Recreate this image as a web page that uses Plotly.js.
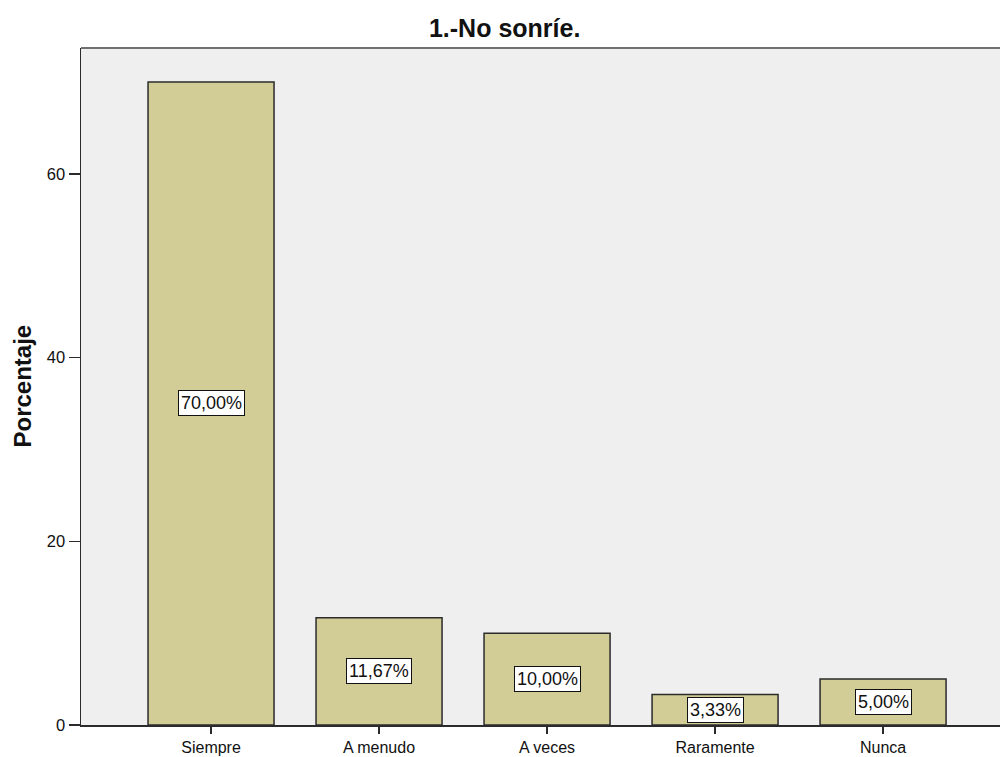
<!DOCTYPE html>
<html>
<head>
<meta charset="utf-8">
<script src="https://cdn.plot.ly/plotly-3.0.1.min.js"></script>
<style>html,body{margin:0;padding:0;background:#fff;}#chart{width:1000px;height:757px;}</style>
</head>
<body>
<div id="chart"></div>
<script>
const categories = ["Siempre", "A menudo", "A veces", "Raramente", "Nunca"];
const values = [70.00, 11.67, 10.00, 3.33, 5.00];
const yTicks = [0, 20, 40, 60];

const FONT = 'Liberation Sans, Arial, sans-serif';
const fmt = v => v.toFixed(2).replace('.', ',') + '%';

const trace = {
  type: 'bar',
  x: categories,
  y: values,
  width: 0.75,
  marker: {color: '#D2CD96', line: {color: '#2b2b2b', width: 1.5}},
  hoverinfo: 'skip'
};

const annotations = categories.map((c, i) => ({
  x: c, y: values[i] / 2, xref: 'x', yref: 'y',
  text: fmt(values[i]), showarrow: false,
  bgcolor: '#ffffff', bordercolor: '#111111', borderwidth: 1, borderpad: 2,
  font: {family: FONT, size: 18, color: '#111'}
}));

annotations.push({
  xref: 'paper', yref: 'paper', x: -0.0642, y: 0.5,
  xanchor: 'center', yanchor: 'middle', textangle: -90, showarrow: false,
  text: '<b>Porcentaje</b>',
  font: {family: FONT, size: 24, color: '#111'}
});

const layout = {
  width: 1000, height: 757,
  margin: {l: 81, r: 0, t: 48, b: 32},
  paper_bgcolor: '#ffffff',
  plot_bgcolor: '#EFEFEF',
  showlegend: false,
  font: {family: FONT, size: 16, color: '#111'},
  title: {
    text: '<b>1.-No sonríe.</b>',
    xref: 'paper', x: 0.461, xanchor: 'center',
    yref: 'container', y: 0.963, yanchor: 'middle',
    font: {family: FONT, size: 25, color: '#111'}
  },
  xaxis: {
    type: 'category',
    range: [-0.774, 4.696],
    showline: true, linecolor: '#2b2b2b', linewidth: 1.5,
    ticks: 'outside', ticklen: 7, tickwidth: 1.5, tickcolor: '#2b2b2b',
    showgrid: false, zeroline: false,
    tickfont: {size: 16, color: '#111'}
  },
  yaxis: {
    range: [0, 73.7],
    tickvals: yTicks,
    showline: true, linecolor: '#2b2b2b', linewidth: 1.5,
    ticks: 'outside', ticklen: 11, tickwidth: 1.5, tickcolor: '#2b2b2b',
    showgrid: false, zeroline: false,
    tickfont: {size: 16.5, color: '#111'}
  },
  shapes: [{
    type: 'line', xref: 'paper', yref: 'paper', x0: 0, x1: 1, y0: 1, y1: 1,
    line: {color: '#707070', width: 2}
  }],
  annotations: annotations
};

Plotly.newPlot('chart', [trace], layout, {displayModeBar: false, staticPlot: true});
</script>
</body>
</html>
